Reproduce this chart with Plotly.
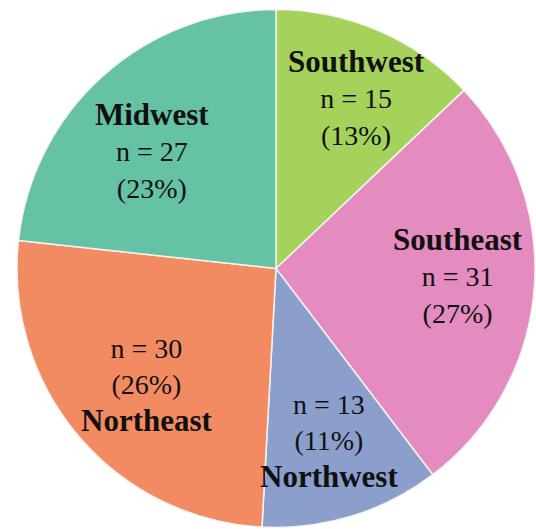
import math
import plotly.graph_objects as go

# ---- data ----
regions = ["Southwest", "Southeast", "Northwest", "Northeast", "Midwest"]
counts = [15, 31, 13, 30, 27]
name_last = [False, False, True, True, False]   # label line order as in the source

# ---- style ----
colors = ["#a4d25a", "#e48bc0", "#8c9fcc", "#f38b62", "#66c2a5"]
label_radius = [0.732, 0.703, 0.70, 0.671, 0.662]   # fraction of pie radius for label centre
label_angle_adj = [2.0, -2.3, 0.0, -1.8, -4.4]      # degrees, nudge from slice mid-angle

W, H = 536, 529
cx_px, cy_px, R_px = 276, 268.5, 259
dom_x = [(cx_px - R_px) / W, (cx_px + R_px) / W]
dom_y = [(H - cy_px - R_px) / H, (H - cy_px + R_px) / H]

total = sum(counts)
fig = go.Figure(go.Pie(
    labels=regions, values=counts, sort=False, direction="clockwise", rotation=0,
    marker=dict(colors=colors, line=dict(color="#f4f4ee", width=1.5)),
    textinfo="none", hoverinfo="label+value+percent",
    domain=dict(x=dom_x, y=dom_y), showlegend=False,
))

font_reg = dict(family="Liberation Serif", size=28, color="#111111")
cum = 0
for name, v, last, rf, adj in zip(regions, counts, name_last, label_radius, label_angle_adj):
    mid = (cum + v / 2) / total * 2 * math.pi + math.radians(adj)
    cum += v
    dx = rf * R_px * math.sin(mid)
    dy = rf * R_px * math.cos(mid)
    xp = (cx_px + dx) / W
    yp = (H - cy_px + dy) / H
    pct = round(v / total * 100)
    lines = [f"n = {v}", f"({pct}%)"]
    bold = f"<span style='font-size:31px'><b>{name}</b></span>"
    txt = "<br>".join(lines + [bold]) if last else "<br>".join([bold] + lines)
    fig.add_annotation(x=xp, y=yp, xref="paper", yref="paper", text=txt,
                       showarrow=False, font=font_reg, align="center",
                       xanchor="center", yanchor="middle")

fig.update_layout(width=W, height=H, margin=dict(l=0, r=0, t=0, b=0),
                  paper_bgcolor="white", plot_bgcolor="white")
fig.write_html("out.html")
